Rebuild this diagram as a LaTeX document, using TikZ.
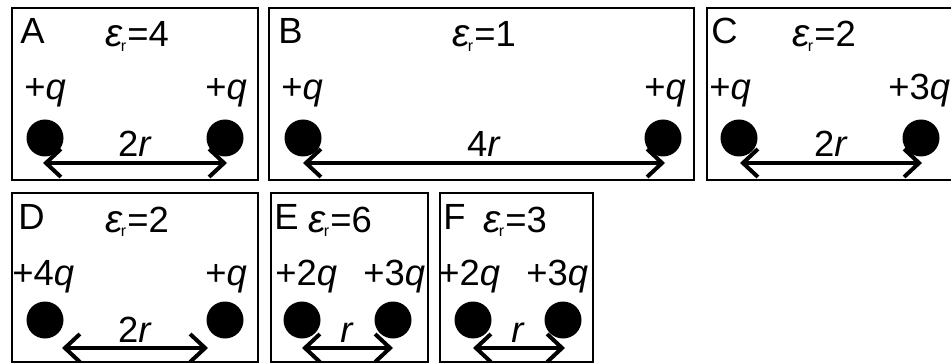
\documentclass[tikz,border=0pt]{standalone}
\usepackage{fontspec}
\setmainfont{Liberation Sans}
\usetikzlibrary{arrows.meta}
\newcommand{\epsr}[1]{{\itshape\fontsize{19.5}{20}\selectfont ε}\kern-0.8pt\raisebox{-2.4pt}{\fontsize{8}{8}\selectfont r}\kern0.6pt=#1}
\begin{document}
\begin{tikzpicture}[x=0.5pt,y=-0.5pt,
  panel/.style={draw=black,line width=1pt},
  txt/.style={inner sep=0pt,anchor=base west,font=\fontsize{18.2}{22}\selectfont},
  ctxt/.style={inner sep=0pt,anchor=base,font=\fontsize{18.2}{22}\selectfont},
  ball/.style={circle,fill=black,inner sep=0pt,minimum size=18.5pt},
  dist/.style={line width=2pt,{Straight Barb[length=7.5pt,width=14pt]}-{Straight Barb[length=7.5pt,width=14pt]}}]
\useasboundingbox (0,0) rectangle (951,363);
% panels
\draw[panel] (12,8) rectangle (258,180);
\draw[panel] (269,8) rectangle (694,180);
\draw[panel] (951,8) -- (707,8) -- (707,180) -- (951,180);
\draw[panel] (12,193) rectangle (258,362);
\draw[panel] (271,193) rectangle (428,362);
\draw[panel] (440,193) rectangle (593,362);
% ---- A
\node[txt] (la) at (20,44) {A};
\node[txt] (ea) at (105,47) {\epsr{4}};
\node[txt] (qa1) at (24,100) {+\textit{q}};
\node[txt] (qa2) at (205,100) {+\textit{q}};
\node[ball] (ba1) at (45,138) {};
\node[ball] (ba2) at (225,138) {};
\coordinate (aL) at (43,163); \coordinate (aR) at (227,163);
\draw[dist] (aL) -- (aR);
\node[ctxt] (da) at (135,157) {2\textit{r}};
% ---- B
\node[txt] (lb) at (278,44) {B};
\node[txt] (eb) at (452,47) {\epsr{1}};
\node[txt] (qb1) at (281,100) {+\textit{q}};
\node[txt] (qb2) at (644,100) {+\textit{q}};
\node[ball] (bb1) at (303,138) {};
\node[ball] (bb2) at (663,138) {};
\coordinate (bL) at (303,163); \coordinate (bR) at (665,163);
\draw[dist] (bL) -- (bR);
\node[ctxt] (db) at (484,157) {4\textit{r}};
% ---- C
\node[txt] (lc) at (711,44) {C};
\node[txt] (ec) at (792,47) {\epsr{2}};
\node[txt] (qc1) at (709,100) {+\textit{q}};
\node[txt] (qc2) at (888,100) {+3\textit{q}};
\node[ball] (bc1) at (739,138) {};
\node[ball] (bc2) at (921,138) {};
\coordinate (cL) at (740,163); \coordinate (cR) at (922,163);
\draw[dist] (cL) -- (cR);
\node[ctxt] (dc) at (831,157) {2\textit{r}};
% ---- D
\node[txt] (ld) at (18,229) {D};
\node[txt] (ed) at (105,232) {\epsr{2}};
\node[txt] (qd1) at (12,285) {+4\textit{q}};
\node[txt] (qd2) at (205,285) {+\textit{q}};
\node[ball] (bd1) at (45,320) {};
\node[ball] (bd2) at (225,320) {};
\coordinate (dL) at (62,348); \coordinate (dR) at (208,348);
\draw[dist] (dL) -- (dR);
\node[ctxt] (dd) at (135,342) {2\textit{r}};
% ---- E
\node[txt] (le) at (274,229) {E};
\node[txt] (ee) at (308,232) {\epsr{6}};
\node[txt] (qe1) at (275,285) {+2\textit{q}};
\node[txt] (qe2) at (363,285) {+3\textit{q}};
\node[ball] (be1) at (302,320) {};
\node[ball] (be2) at (393,320) {};
\coordinate (eL) at (302,348); \coordinate (eR) at (393,348);
\draw[dist] (eL) -- (eR);
\node[ctxt] (de) at (347,342) {\textit{r}};
% ---- F
\node[txt] (lf) at (443,229) {F};
\node[txt] (ef) at (483,232) {\epsr{3}};
\node[txt] (qf1) at (438,285) {+2\textit{q}};
\node[txt] (qf2) at (526,285) {+3\textit{q}};
\node[ball] (bf1) at (473,320) {};
\node[ball] (bf2) at (563,320) {};
\coordinate (fL) at (473,348); \coordinate (fR) at (565,348);
\draw[dist] (fL) -- (fR);
\node[ctxt] (df) at (518,342) {\textit{r}};
\end{tikzpicture}
\end{document}
